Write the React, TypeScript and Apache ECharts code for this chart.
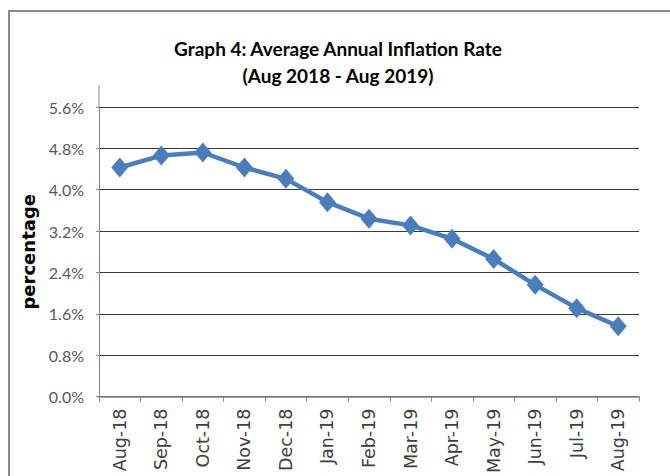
import React, { useEffect, useRef } from "react";
import * as echarts from "echarts";

const titleLines = ["Graph 4: Average Annual Inflation Rate", "(Aug 2018 - Aug 2019)"];
const categories = [
  "Aug-18", "Sep-18", "Oct-18", "Nov-18", "Dec-18", "Jan-19", "Feb-19",
  "Mar-19", "Apr-19", "May-19", "Jun-19", "Jul-19", "Aug-19",
];
const inflation = [4.43, 4.66, 4.72, 4.43, 4.21, 3.76, 3.44, 3.31, 3.05, 2.66, 2.16, 1.71, 1.36];
const yAxisName = "percentage";
const yMin = 0;
const yMax = 5.6;
const yStep = 0.8;

export default function App() {
  const ref = useRef<HTMLDivElement>(null);
  useEffect(() => {
    if (!ref.current) return;
    const chart = echarts.init(ref.current, null, { renderer: "svg" });
    chart.setOption({
      animation: false,
      backgroundColor: "#ffffff",
      title: {
        text: titleLines.join("\n"),
        left: 333,
        top: 30,
        textAlign: "center",
        textStyle: {
          fontFamily: "Lato, sans-serif",
          fontWeight: "bold",
          fontSize: 19,
          lineHeight: 27,
          color: "#000000",
        },
      },
      graphic: [
        {
          type: "polyline",
          shape: { points: [[9, 480], [9, 11], [680, 11]] },
          style: { stroke: "#8a8a8a", lineWidth: 2, fill: "none" },
          silent: true,
        },
        {
          type: "line",
          shape: { x1: 99, y1: 85, x2: 99, y2: 107 },
          style: { stroke: "#868686", lineWidth: 1 },
          silent: true,
        },
      ],
      grid: { left: 99, right: 31, top: 107, bottom: 79, containLabel: false },
      xAxis: {
        type: "category",
        data: categories,
        boundaryGap: true,
        axisLine: { show: true, lineStyle: { color: "#868686", width: 1.5 } },
        axisTick: { show: true, length: 5, lineStyle: { color: "#868686" } },
        axisLabel: {
          rotate: 90,
          margin: 12,
          fontSize: 17.5,
          fontFamily: "DejaVu Sans, sans-serif",
          color: "#404040",
          interval: 0,
        },
        splitLine: { show: false },
      },
      yAxis: {
        type: "value",
        min: yMin,
        max: yMax,
        interval: yStep,
        name: yAxisName,
        nameLocation: "middle",
        nameGap: 61,
        nameRotate: 90,
        nameTextStyle: {
          fontFamily: "DejaVu Sans, sans-serif",
          fontWeight: "bold",
          fontSize: 18,
          color: "#000000",
        },
        axisLine: { show: true, lineStyle: { color: "#868686", width: 1 } },
        axisTick: { show: true, length: 3, lineStyle: { color: "#868686" } },
        axisLabel: {
          margin: 15,
          fontSize: 16,
          fontFamily: "Lato, sans-serif",
          color: "#595959",
          formatter: (v: number) => v.toFixed(1) + "%",
        },
        splitLine: { show: true, lineStyle: { color: "#3a3a3a", width: 1.2 } },
      },
      series: [
        {
          type: "line",
          data: inflation,
          symbol: "diamond",
          symbolSize: [17, 20],
          lineStyle: { color: "#4a7ebb", width: 4.5 },
          itemStyle: { color: "#4a7ebb" },
        },
      ],
    });
    return () => chart.dispose();
  }, []);
  return (
    <div
      ref={ref}
      style={{ position: "fixed", left: 0, top: 0, width: 670, height: 476 }}
    />
  );
}
